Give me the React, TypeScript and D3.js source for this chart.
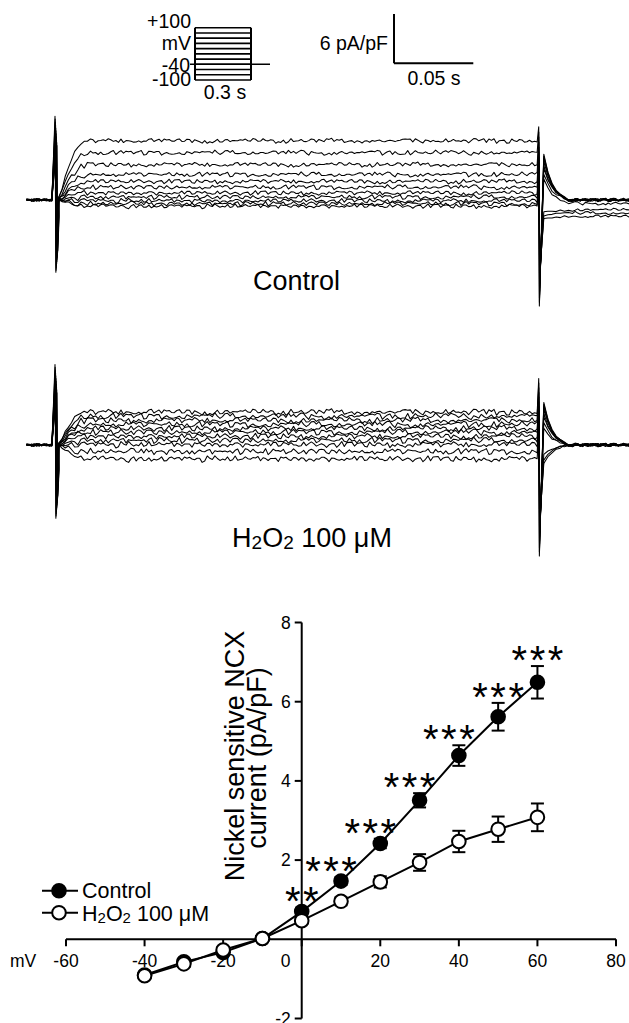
import React from 'react';
import * as d3 from 'd3';

const FONT = '"Liberation Sans", Arial, Helvetica, sans-serif';
const W = 629;
const H = 1023;

// ---------- I–V relationship (mean ± SEM, pA/pF) ----------
const voltages = [-40, -30, -20, -10, 0, 10, 20, 30, 40, 50, 60];
const controlMean = [-0.9, -0.57, -0.33, 0.02, 0.7, 1.47, 2.42, 3.51, 4.64, 5.62, 6.49];
const controlSem = [0.08, 0.08, 0.08, 0.06, 0.1, 0.1, 0.12, 0.18, 0.26, 0.35, 0.41];
const h2o2Mean = [-0.92, -0.62, -0.27, 0.02, 0.47, 0.96, 1.45, 1.94, 2.47, 2.78, 3.08];
const h2o2Sem = [0.08, 0.08, 0.08, 0.06, 0.08, 0.1, 0.14, 0.21, 0.27, 0.32, 0.35];
const significance = ['', '', '', '', '**', '***', '***', '***', '***', '***', '***'];
const xTicks = [-60, -40, -20, 0, 20, 40, 60, 80];
const yTicks = [-2, 2, 4, 6, 8];

// ---------- raw current traces (pA/pF, one entry per voltage step) ----------
const controlLevels = [7.2, 5.75, 4.3, 3.1, 2.25, 1.55, 0.85, 0.35, -0.1, -0.45, -0.75];
const controlHump = [5.5, 5.3, 5.0, 4.6, 4.2, 3.8, 3.2, 2.5, -1.5, -2.0, -2.4];
const controlTail = [0, 0, 0, 0, 0, 0, 0, -0.4, -1.2, -1.6, -2.0];
const h2o2Levels = [4.0, 3.5, 3.0, 2.5, 2.0, 1.55, 1.05, 0.55, 0.05, -0.8, -1.7];
const h2o2Hump = [5.1, 4.9, 4.6, 4.3, 3.9, 3.4, 2.8, 2.0, -1.2, -1.9, -2.4];
const h2o2Tail = [0, 0, 0, 0, 0, 0, 0, 0, 0, 0, 0];
const riseShape = [0.05, 0.2, 0.38, 0.55, 0.68, 0.78, 0.86, 0.92, 0.96, 1];
const decayShape = [1, 0.62, 0.38, 0.22, 0.12, 0.05, 0];
const jitterA = [
  0.3, -0.6, 0.8, -0.2, 0.5, -0.9, 0.1, 0.7, -0.4, 0.9, -0.7, 0.2, -0.3, 0.6, -0.8, 0.4,
  -0.1, 0.9, -0.5, 0.3, -0.9, 0.6, 0.0, -0.6, 0.8, -0.3, 0.5, -0.8, 0.2, 0.7, -0.5, 0.4,
  -0.2, 0.9, -0.7, 0.1, 0.6, -0.4, 0.8, -0.9, 0.3, -0.1, 0.7, -0.6, 0.5, -0.3, 0.9, -0.8,
  0.2, 0.4, -0.7, 0.6, -0.2, 0.8, -0.5, 0.1, -0.9, 0.7, -0.4, 0.3, 0.5, -0.6, 0.0, 0.8,
];
const jitterB = [
  0.5, -0.8, 0.2, 0.9, -0.4, -0.1, 0.7, -0.9, 0.3, 0.6, -0.5, 0.0, -0.7, 0.8, -0.2,
  0.4, -0.6, 0.9, -0.3, 0.1, -0.8, 0.5, 0.7, -0.1, -0.9, 0.3, 0.6, -0.4, 0.2,
];

// ---------- voltage-clamp protocol (mV) ----------
const stepLevels = [-100, -80, -60, -40, -20, 0, 20, 40, 60, 80, 100];
const holdingLevel = -40;

// time axis of the traces, ms
const T_START = -18;
const T_END = 366;
const PULSE_END = 305;
const STEP = 1.6;

const tScale = d3.scaleLinear().domain([0, 50]).range([55, 134.3]);

type Spec = {
  base: number;
  levels: number[];
  hump: number[];
  tail: number[];
  onTop: number;
  onBottom: number;
  onDip: number;
  offTop: number;
  offBottom: number;
  restNoise: number;
  pulseNoise: number;
};

const controlSpec: Spec = {
  base: 200,
  levels: controlLevels,
  hump: controlHump,
  tail: controlTail,
  onTop: 10.2,
  onBottom: -8.8,
  onDip: -2,
  offTop: 8.9,
  offBottom: -12.9,
  restNoise: 0.17,
  pulseNoise: 0.32,
};

const h2o2Spec: Spec = {
  base: 445,
  levels: h2o2Levels,
  hump: h2o2Hump,
  tail: h2o2Tail,
  onTop: 9.8,
  onBottom: -8.9,
  onDip: -3,
  offTop: 8.1,
  offBottom: -13.5,
  restNoise: 0.17,
  pulseNoise: 0.42,
};

function tracePoints(k: number, spec: Spec): [number, number][] {
  const pts: [number, number][] = [];
  let i = 0;
  const jitter = (amp: number) => {
    const v =
      amp *
      (0.65 * jitterA[(i * 5 + k * 11) % jitterA.length] +
        0.45 * jitterB[(i * 3 + k * 7) % jitterB.length]);
    i += 1;
    return v;
  };
  for (let t = T_START; t < -0.6; t += STEP) pts.push([t, jitter(spec.restNoise)]);
  const lag = k * 0.12;
  pts.push([lag, spec.onTop * (1 - 0.035 * k)]);
  pts.push([lag + 0.55, spec.onBottom * (1 - 0.03 * k)]);
  pts.push([lag + 1.4, spec.onDip + jitter(spec.restNoise)]);
  riseShape.forEach((f, j) =>
    pts.push([2.4 + j * 2, spec.levels[k] * f + jitter(spec.restNoise + spec.pulseNoise * f)])
  );
  for (let t = 2.4 + riseShape.length * 2; t < PULSE_END - 0.6; t += STEP)
    pts.push([t, spec.levels[k] + jitter(spec.pulseNoise)]);
  pts.push([PULSE_END + lag * 0.2, spec.offTop * (1 - 0.07 * k)]);
  pts.push([PULSE_END + 0.4 + lag * 0.3, spec.offBottom * (1 - 0.035 * k)]);
  decayShape.forEach((f, j) =>
    pts.push([
      PULSE_END + 3.2 + j * 2.6,
      spec.hump[k] * f + spec.tail[k] * (1 - f) + jitter(spec.restNoise),
    ])
  );
  for (let t = PULSE_END + 3.2 + decayShape.length * 2.6; t <= T_END; t += STEP)
    pts.push([t, spec.tail[k] + jitter(spec.restNoise * 1.3)]);
  return pts;
}

function TracePanel({ spec }: { spec: Spec }) {
  const iScale = d3.scaleLinear().domain([0, 6]).range([spec.base, spec.base - 49.3]);
  const line = d3
    .line<[number, number]>()
    .x((d) => tScale(d[0]))
    .y((d) => iScale(d[1]));
  return (
    <g fill="none" stroke="#000" strokeWidth={1.05} strokeLinejoin="round">
      {spec.levels.map((_, k) => (
        <path key={k} d={line(tracePoints(k, spec)) || ''} />
      ))}
    </g>
  );
}

function Protocol() {
  const v = d3.scaleLinear().domain([-100, 100]).range([80, 27.7]);
  const x0 = 195;
  const x1 = 251;
  return (
    <g stroke="#000" fill="none">
      {stepLevels.map((lv) => (
        <line key={lv} x1={x0} x2={x1} y1={v(lv)} y2={v(lv)} strokeWidth={1.6} />
      ))}
      <line x1={x0} x2={x0} y1={v(-100)} y2={v(100)} strokeWidth={2} />
      <line x1={x1} x2={x1} y1={v(-100)} y2={v(100)} strokeWidth={2} />
      <line x1={190} x2={270} y1={v(holdingLevel)} y2={v(holdingLevel)} strokeWidth={1.6} />
    </g>
  );
}

function ScaleBar() {
  const xb = 394;
  const yb = 63.3;
  const height = 49.3; // 6 pA/pF
  const width = tScale(50) - tScale(0); // 0.05 s
  return (
    <g stroke="#000" strokeWidth={2} fill="none">
      <line x1={xb} x2={xb} y1={yb - height} y2={yb} />
      <line x1={xb} x2={xb + width} y1={yb} y2={yb} />
    </g>
  );
}

const xScale = d3.scaleLinear().domain([-60, 80]).range([66, 616]);
const yScale = d3.scaleLinear().domain([-2, 8]).range([1018.5, 622.5]);

function IVPlot() {
  const x0 = xScale(0);
  const y0 = yScale(0);
  const line = d3
    .line<number>()
    .x((_, i) => xScale(voltages[i]))
    .y((d) => yScale(d));
  const R = 6.8;
  const cap = 6.5;
  const series = [
    { mean: controlMean, sem: controlSem, fill: '#000' },
    { mean: h2o2Mean, sem: h2o2Sem, fill: '#fff' },
  ];
  return (
    <g>
      {/* axes */}
      <g stroke="#000" strokeWidth={2} fill="none">
        <line x1={xScale(-60)} x2={xScale(80)} y1={y0} y2={y0} />
        <line x1={x0} x2={x0} y1={yScale(8)} y2={yScale(-2)} />
        {xTicks.map((t) => (
          <line key={'xt' + t} x1={xScale(t)} x2={xScale(t)} y1={y0} y2={y0 + 7} />
        ))}
        {yTicks.map((t) => (
          <line key={'yt' + t} x1={x0 - 7} x2={x0} y1={yScale(t)} y2={yScale(t)} />
        ))}
      </g>
      <g fontFamily={FONT} fontSize={17.5} fill="#000">
        {xTicks.map((t) => (
          <text key={'xl' + t} x={t === 0 ? x0 - 16 : xScale(t)} y={y0 + 28} textAnchor="middle">
            {t}
          </text>
        ))}
        <text x={23} y={y0 + 28} textAnchor="middle">
          mV
        </text>
        {yTicks.map((t) => (
          <text key={'yl' + t} x={x0 - 11} y={yScale(t) + 6.3} textAnchor="end">
            {t}
          </text>
        ))}
      </g>
      <g fontFamily={FONT} fontSize={27} fill="#000">
        <text transform={`translate(244,756) rotate(-90)`} textAnchor="middle">
          Nickel sensitive NCX
        </text>
        <text transform={`translate(266,758) rotate(-90)`} textAnchor="middle">
          current (pA/pF)
        </text>
      </g>

      {series.map((s, si) => (
        <g key={si}>
          <path d={line(s.mean) || ''} fill="none" stroke="#000" strokeWidth={2} />
          <g stroke="#000" strokeWidth={2}>
            {s.mean.map((m, i) => {
              const x = xScale(voltages[i]);
              const yt = yScale(m + s.sem[i]);
              const yb = yScale(m - s.sem[i]);
              return (
                <g key={i}>
                  <line x1={x} x2={x} y1={yt} y2={yb} />
                  <line x1={x - cap} x2={x + cap} y1={yt} y2={yt} />
                  <line x1={x - cap} x2={x + cap} y1={yb} y2={yb} />
                </g>
              );
            })}
          </g>
          {s.mean.map((m, i) => (
            <circle
              key={'c' + i}
              cx={xScale(voltages[i])}
              cy={yScale(m)}
              r={R}
              fill={s.fill}
              stroke="#000"
              strokeWidth={2}
            />
          ))}
        </g>
      ))}

      {/* significance markers */}
      <g fontFamily={FONT} fontSize={40} fill="#000" letterSpacing={2.5}>
        {significance.map((s, i) => {
          if (!s) return null;
          const v = voltages[i];
          const shift = v > 0 && v < 50 ? -10 : 0;
          const cy = yScale(controlMean[i] + controlSem[i]) - 15;
          return (
            <text key={'s' + i} x={xScale(v) + shift + 1.25} y={cy + 22.8} textAnchor="middle">
              {s}
            </text>
          );
        })}
      </g>

      {/* legend */}
      <g>
        <line x1={42} x2={78} y1={890.7} y2={890.7} stroke="#000" strokeWidth={2} />
        <circle cx={59} cy={890.7} r={R} fill="#000" stroke="#000" strokeWidth={2} />
        <line x1={42} x2={78} y1={912.7} y2={912.7} stroke="#000" strokeWidth={2} />
        <circle cx={59} cy={912.7} r={R} fill="#fff" stroke="#000" strokeWidth={2} />
        <g fontFamily={FONT} fontSize={21.5} fill="#000">
          <text x={82} y={898.3}>
            Control
          </text>
          <text x={82} y={920.7}>
            H
            <tspan fontSize={15} dy={2}>
              2
            </tspan>
            <tspan dy={-2}>O</tspan>
            <tspan fontSize={15} dy={2}>
              2
            </tspan>
            <tspan dy={-2}> 100 μM</tspan>
          </text>
        </g>
      </g>
    </g>
  );
}

export default function App() {
  return (
    <svg
      width={W}
      height={H}
      viewBox={`0 0 ${W} ${H}`}
      style={{ position: 'absolute', left: 0, top: 0, background: '#fff' }}
    >
      <rect width={W} height={H} fill="#fff" />
      <Protocol />
      <g fontFamily={FONT} fontSize={19.5} fill="#000">
        <text x={191} y={28.3} textAnchor="end">+100</text>
        <text x={191} y={50} textAnchor="end">mV</text>
        <text x={190} y={71.7} textAnchor="end">-40</text>
        <text x={191} y={86} textAnchor="end">-100</text>
        <text x={225} y={99} textAnchor="middle">0.3 s</text>
        <text x={388} y={50} textAnchor="end">6 pA/pF</text>
        <text x={434} y={85} textAnchor="middle">0.05 s</text>
      </g>
      <ScaleBar />

      <TracePanel spec={controlSpec} />
      <text x={296.5} y={290} textAnchor="middle" fontFamily={FONT} fontSize={27}>
        Control
      </text>

      <TracePanel spec={h2o2Spec} />
      <text x={312} y={547} textAnchor="middle" fontFamily={FONT} fontSize={27}>
        H
        <tspan fontSize={19} dy={2}>2</tspan>
        <tspan dy={-2}>O</tspan>
        <tspan fontSize={19} dy={2}>2</tspan>
        <tspan dy={-2}> 100 μM</tspan>
      </text>

      <IVPlot />
    </svg>
  );
}
